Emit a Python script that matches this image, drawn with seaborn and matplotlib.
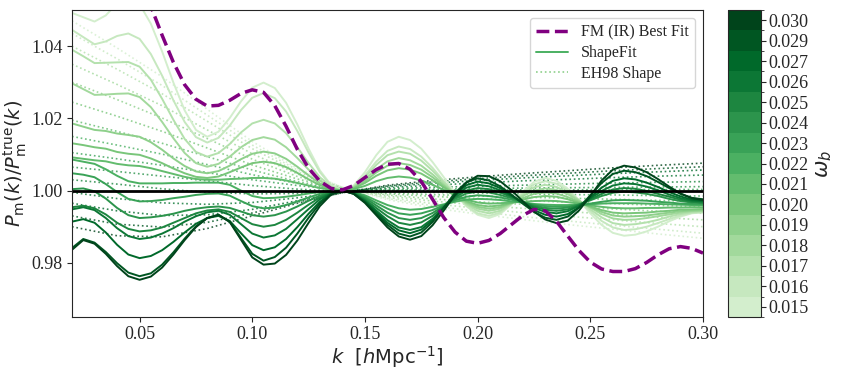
import numpy as np
import pandas as pd
import matplotlib
matplotlib.use("Agg")
import matplotlib.pyplot as plt
from matplotlib.colors import ListedColormap, BoundaryNorm
from matplotlib.cm import ScalarMappable
from matplotlib.lines import Line2D
import seaborn as sns

# omega_b of each curve / colour band
wb_labels = ['0.015', '0.016', '0.017', '0.018', '0.019', '0.020', '0.021', '0.022',
             '0.023', '0.024', '0.025', '0.026', '0.027', '0.029', '0.030']

# k grids the curves were read on [h/Mpc]
k_sf = np.linspace(0.02, 0.30, 57)
k_eh = np.linspace(0.02, 0.30, 15)
k_fm = np.linspace(0.05, 0.30, 51)

# ShapeFit curves, (P_m/P_m^true - 1) * 1000
sf_015 = [49.2, 48.0, 46.8, 48.5, 51.8, 53.5, 51.6, 46.2, 38.5, 29.9, 22.2, 16.8, 14.9, 16.3, 20.1, 24.7, 28.5, 29.9, 28.4, 24.3,
          18.3, 11.6, 5.6, 1.5, 0.0, 1.4, 5.1, 9.8, 13.5, 14.9, 14.0, 11.6, 7.9, 3.7, -0.7, -4.3, -6.7, -7.6, -6.5, -3.8,
          -0.3, 2.4, 3.5, 2.7, 0.5, -2.7, -6.3, -9.5, -11.7, -12.5, -12.2, -11.3, -10.0, -8.5, -7.2, -6.3, -6.0]
sf_016 = [44.5, 42.5, 40.5, 41.3, 42.8, 43.5, 42.0, 37.8, 31.8, 25.0, 19.0, 14.8, 13.3, 14.6, 18.0, 22.3, 25.7, 27.0, 25.6, 21.9,
          16.5, 10.5, 5.1, 1.4, 0.0, 1.2, 4.2, 8.0, 11.0, 12.2, 11.5, 9.4, 6.3, 2.6, -1.1, -4.2, -6.3, -7.0, -6.1, -3.7,
          -0.7, 1.7, 2.6, 1.9, 0.1, -2.7, -5.7, -8.4, -10.2, -10.9, -10.7, -10.0, -9.0, -7.9, -6.9, -6.2, -6.0]
sf_017 = [39.0, 37.2, 35.3, 35.4, 35.5, 35.6, 34.3, 30.7, 25.4, 19.6, 14.3, 10.7, 9.4, 10.4, 12.9, 16.1, 18.6, 19.6, 18.6, 15.9,
          12.0, 7.6, 3.7, 1.0, 0.0, 1.0, 3.7, 7.1, 9.8, 10.8, 10.2, 8.3, 5.5, 2.3, -1.0, -3.8, -5.6, -6.3, -5.6, -3.6,
          -1.1, 0.9, 1.6, 1.0, -0.5, -2.7, -5.2, -7.4, -9.0, -9.5, -9.3, -8.8, -8.1, -7.2, -6.5, -6.0, -5.8]
sf_018 = [29.7, 28.1, 26.5, 26.6, 26.8, 26.9, 25.9, 23.1, 19.0, 14.5, 10.4, 7.6, 6.6, 7.4, 9.4, 12.0, 14.0, 14.8, 14.1, 12.0,
          9.0, 5.8, 2.8, 0.7, 0.0, 0.9, 3.1, 5.9, 8.1, 9.0, 8.4, 6.9, 4.5, 1.7, -1.1, -3.5, -5.0, -5.6, -5.0, -3.5,
          -1.5, 0.0, 0.6, 0.2, -1.0, -2.8, -4.7, -6.5, -7.7, -8.1, -8.0, -7.6, -7.1, -6.6, -6.1, -5.7, -5.6]
sf_019 = [18.6, 17.7, 16.8, 16.5, 15.8, 15.4, 14.9, 13.4, 11.3, 8.9, 6.8, 5.3, 4.8, 5.4, 6.9, 8.7, 10.2, 10.8, 10.3, 8.8,
          6.6, 4.2, 2.0, 0.5, 0.0, 0.7, 2.6, 5.0, 6.9, 7.6, 7.1, 5.8, 3.7, 1.3, -1.1, -3.2, -4.5, -5.0, -4.6, -3.4,
          -2.1, -0.9, -0.5, -0.8, -1.8, -3.1, -4.6, -5.9, -6.9, -7.2, -7.1, -6.9, -6.5, -6.1, -5.7, -5.5, -5.4]
sf_020 = [13.1, 12.6, 12.0, 11.6, 10.7, 10.2, 9.9, 8.9, 7.6, 6.1, 4.8, 3.8, 3.5, 3.9, 5.1, 6.4, 7.6, 8.0, 7.6, 6.5,
          4.9, 3.1, 1.5, 0.4, 0.0, 0.6, 2.1, 4.1, 5.6, 6.2, 5.8, 4.7, 2.9, 0.9, -1.1, -2.9, -4.0, -4.4, -4.1, -3.4,
          -2.5, -1.8, -1.5, -1.7, -2.4, -3.4, -4.4, -5.4, -6.1, -6.3, -6.2, -6.1, -5.8, -5.6, -5.3, -5.2, -5.1]
sf_021 = [9.2, 8.8, 8.4, 8.1, 7.4, 7.0, 6.8, 6.2, 5.4, 4.6, 3.8, 3.2, 3.0, 3.0, 3.2, 3.3, 3.5, 3.5, 3.3, 2.8,
          2.1, 1.4, 0.7, 0.2, 0.0, 0.4, 1.3, 2.6, 3.5, 3.9, 3.6, 2.8, 1.6, 0.2, -1.3, -2.5, -3.3, -3.6, -3.5, -3.3,
          -3.1, -2.9, -2.8, -2.9, -3.2, -3.6, -4.1, -4.5, -4.8, -4.9, -4.9, -4.8, -4.8, -4.7, -4.7, -4.6, -4.6]
sf_022 = [8.6, 8.0, 7.4, 5.9, 4.1, 2.6, 2.0, 2.0, 2.0, 2.1, 2.1, 2.2, 2.2, 2.2, 1.6, 0.0, -1.5, -2.1, -2.0, -1.7,
          -1.3, -0.8, -0.4, -0.1, 0.0, -0.4, -1.3, -2.7, -4.0, -4.9, -5.3, -5.1, -4.5, -3.8, -3.1, -2.5, -2.3, -2.4, -2.6, -3.0,
          -3.3, -3.7, -3.9, -4.0, -4.0, -3.9, -3.8, -3.6, -3.5, -3.5, -3.5, -3.6, -3.7, -3.8, -3.9, -4.0, -4.0]
sf_023 = [4.8, 4.4, 3.7, 1.8, -0.4, -2.3, -3.0, -2.9, -2.6, -2.1, -1.7, -1.2, -0.9, -0.8, -1.4, -2.9, -4.3, -4.9, -4.7, -4.0,
          -3.0, -1.9, -0.9, -0.2, 0.0, -0.4, -1.7, -3.4, -5.0, -6.3, -6.7, -6.3, -5.4, -4.0, -2.7, -1.7, -1.3, -1.5, -1.9, -2.5,
          -3.3, -3.9, -4.3, -4.5, -4.4, -4.0, -3.6, -3.1, -2.7, -2.6, -2.7, -2.8, -3.1, -3.3, -3.6, -3.7, -3.8]
sf_024 = [0.4, 0.6, -0.2, -2.2, -4.8, -6.8, -7.6, -7.4, -7.0, -6.4, -5.6, -5.0, -4.6, -4.4, -4.8, -5.8, -6.8, -7.2, -6.8, -5.8,
          -4.4, -2.8, -1.4, -0.4, 0.0, -0.5, -2.0, -4.1, -6.1, -7.6, -8.1, -7.6, -6.2, -4.2, -2.3, -0.8, -0.3, -0.5, -1.2, -2.1,
          -3.2, -4.1, -4.8, -5.0, -4.7, -3.8, -2.7, -1.5, -0.6, -0.3, -0.5, -0.9, -1.5, -2.3, -2.9, -3.3, -3.5]
sf_025 = [-4.6, -4.2, -4.9, -6.6, -8.9, -10.6, -11.3, -11.0, -10.2, -8.9, -7.6, -6.3, -5.5, -5.2, -5.9, -7.6, -9.3, -10.0, -9.5, -8.1,
          -6.1, -3.9, -1.9, -0.5, 0.0, -0.6, -2.4, -4.8, -7.1, -8.9, -9.5, -8.8, -7.0, -4.4, -1.9, 0.0, 0.7, 0.4, -0.5, -1.8,
          -3.1, -4.4, -5.3, -5.6, -5.2, -4.0, -2.5, -0.9, 0.3, 0.7, 0.5, -0.1, -0.9, -1.7, -2.5, -3.1, -3.3]
sf_026 = [-5.2, -4.6, -5.4, -7.6, -10.4, -12.6, -13.4, -13.0, -11.9, -10.4, -8.6, -7.1, -6.0, -5.6, -6.7, -9.3, -11.9, -13.0, -12.4, -10.6,
          -7.9, -5.1, -2.4, -0.7, 0.0, -0.7, -2.7, -5.5, -8.2, -10.2, -10.9, -10.1, -7.8, -4.7, -1.5, 0.8, 1.6, 1.2, 0.1, -1.5,
          -3.2, -4.8, -5.9, -6.3, -5.7, -4.2, -2.2, -0.1, 1.4, 2.0, 1.8, 1.1, 0.1, -1.1, -2.1, -2.8, -3.0]
sf_027 = [-8.6, -7.9, -8.9, -11.6, -15.0, -17.7, -18.7, -18.1, -16.5, -14.2, -11.6, -9.2, -7.6, -7.0, -8.4, -11.8, -15.1, -16.5, -15.7, -13.4,
          -10.1, -6.4, -3.1, -0.8, 0.0, -0.8, -3.0, -5.9, -8.9, -11.0, -11.8, -10.8, -8.2, -4.7, -1.1, 1.5, 2.5, 2.0, 0.7, -1.3,
          -3.4, -5.4, -6.7, -7.2, -6.5, -4.6, -1.9, 0.8, 2.7, 3.4, 3.1, 2.2, 1.0, -0.4, -1.6, -2.5, -2.8]
sf_029 = [-15.9, -13.4, -14.4, -17.0, -20.1, -22.7, -23.7, -22.9, -20.5, -17.1, -13.3, -9.9, -7.6, -6.7, -8.6, -13.1, -17.5, -19.4, -18.4, -15.8,
          -11.9, -7.5, -3.6, -1.0, 0.0, -0.9, -3.2, -6.4, -9.5, -11.9, -12.7, -11.6, -8.7, -4.7, -0.6, 2.3, 3.4, 2.8, 1.2, -1.1,
          -3.6, -5.9, -7.5, -8.1, -7.2, -4.7, -1.3, 2.1, 4.6, 5.5, 5.1, 4.0, 2.4, 0.7, -0.9, -2.0, -2.4]
sf_030 = [-16.4, -13.7, -14.7, -17.5, -20.9, -23.7, -24.7, -23.8, -21.3, -17.7, -13.7, -10.1, -7.6, -6.7, -8.7, -13.6, -18.5, -20.5, -20.2, -17.8,
          -13.8, -8.9, -4.3, -1.1, 0.0, -0.9, -3.4, -6.8, -10.2, -12.7, -13.6, -12.6, -9.6, -5.5, -1.2, 2.2, 4.1, 4.0, 2.6, 0.1,
          -2.9, -5.8, -8.0, -9.0, -8.3, -5.5, -1.5, 2.8, 5.8, 6.9, 6.4, 5.1, 3.2, 1.1, -0.8, -2.1, -2.6]

# EH98 shape curves, same units, on the coarser k_eh grid
eh_015 = [47.0, 39.5, 31.5, 22.5, 13.6, 6.1, 0.9, -2.5, -4.8, -6.5, -8.0, -9.4, -10.7, -12.0, -13.2]
eh_016 = [43.5, 36.5, 29.1, 20.9, 12.6, 5.7, 0.9, -2.2, -4.2, -5.8, -7.2, -8.4, -9.6, -10.7, -11.8]
eh_017 = [40.0, 33.6, 26.8, 19.2, 11.6, 5.2, 0.8, -1.9, -3.6, -4.9, -6.1, -7.1, -8.1, -9.1, -10.0]
eh_018 = [35.0, 29.4, 23.5, 16.8, 10.2, 4.6, 0.7, -1.5, -2.9, -4.0, -4.9, -5.8, -6.6, -7.4, -8.1]
eh_019 = [30.0, 25.2, 20.1, 14.4, 8.7, 3.9, 0.6, -1.2, -2.3, -3.1, -3.8, -4.5, -5.1, -5.7, -6.3]
eh_020 = [24.5, 20.6, 16.4, 11.8, 7.1, 3.2, 0.5, -0.9, -1.6, -2.2, -2.7, -3.2, -3.6, -4.1, -4.5]
eh_021 = [19.5, 16.4, 13.1, 9.4, 5.7, 2.5, 0.4, -0.6, -1.1, -1.5, -1.8, -2.1, -2.4, -2.7, -3.0]
eh_022 = [15.0, 12.6, 10.1, 7.2, 4.4, 2.0, 0.3, -0.3, -0.5, -0.7, -0.9, -1.1, -1.2, -1.4, -1.5]
eh_023 = [10.5, 8.8, 7.0, 5.0, 3.0, 1.4, 0.2, 0.1, 0.1, 0.2, 0.2, 0.2, 0.3, 0.3, 0.3]
eh_024 = [6.5, 5.3, 4.0, 2.7, 1.4, 0.4, -0.2, 0.2, 0.4, 0.5, 0.7, 0.8, 0.9, 1.0, 1.1]
eh_025 = [3.0, 1.8, 0.5, -0.5, -0.9, -0.8, -0.3, 0.5, 0.9, 1.2, 1.5, 1.8, 2.1, 2.3, 2.5]
eh_026 = [-0.5, -2.2, -3.4, -3.8, -3.3, -2.0, -0.4, 0.8, 1.5, 2.1, 2.7, 3.1, 3.6, 4.0, 4.3]
eh_027 = [-3.5, -5.6, -6.9, -6.7, -5.2, -2.8, -0.5, 1.1, 2.0, 2.8, 3.5, 4.1, 4.7, 5.2, 5.7]
eh_029 = [-7.0, -9.3, -10.1, -8.8, -6.2, -3.2, -0.6, 1.3, 2.4, 3.3, 4.1, 4.8, 5.5, 6.1, 6.6]
eh_030 = [-10.0, -12.5, -12.8, -10.5, -7.0, -3.5, -0.6, 1.5, 2.8, 3.8, 4.7, 5.5, 6.3, 7.0, 7.6]

# FM (IR) best fit, same units, on k_fm
fm_dev = [62.0, 51.0, 43.0, 35.5, 29.3, 25.3, 23.4, 23.6, 25.0, 26.9,
          27.9, 27.2, 23.5, 17.8, 11.4, 6.2, 2.6, 0.6, 0.2, 1.4,
          3.6, 5.8, 7.3, 7.5, 5.9, 2.5, -2.4, -7.5, -11.5, -14.0,
          -14.6, -13.8, -11.9, -9.4, -6.9, -5.2, -5.6, -8.5, -12.6, -16.6,
          -19.8, -21.7, -22.4, -22.4, -21.6, -19.9, -17.8, -16.1, -15.5, -16.0,
          -17.3]

shapefit = [sf_015, sf_016, sf_017, sf_018, sf_019, sf_020, sf_021, sf_022,
            sf_023, sf_024, sf_025, sf_026, sf_027, sf_029, sf_030]
eh98 = [eh_015, eh_016, eh_017, eh_018, eh_019, eh_020, eh_021, eh_022,
        eh_023, eh_024, eh_025, eh_026, eh_027, eh_029, eh_030]

# long-form tables for seaborn
df_sf = pd.concat([pd.DataFrame({'k': k_sf, 'ratio': 1 + np.array(v) / 1000, 'wb': lab})
                   for v, lab in zip(shapefit, wb_labels)], ignore_index=True)
df_eh = pd.concat([pd.DataFrame({'k': k_eh, 'ratio': 1 + np.array(v) / 1000, 'wb': lab})
                   for v, lab in zip(eh98, wb_labels)], ignore_index=True)
fm_ratio = 1 + np.array(fm_dev) / 1000

sns.set_style("ticks")
plt.rcParams['font.family'] = ['Liberation Serif', 'DejaVu Serif']
plt.rcParams['mathtext.fontset'] = 'dejavusans'

greens = plt.get_cmap('Greens')(np.linspace(0.2, 1.0, len(wb_labels)))
pal = {lab: greens[i] for i, lab in enumerate(wb_labels)}

fig = plt.figure(figsize=(8.43, 3.73), dpi=100)
ax = fig.add_axes([0.0854, 0.1501, 0.7485, 0.8231])
cax = fig.add_axes([0.8636, 0.1501, 0.0391, 0.8231])

sns.lineplot(data=df_eh, x='k', y='ratio', hue='wb', hue_order=wb_labels, palette=pal,
             estimator=None, legend=False, linestyle=':', lw=1.2, alpha=0.8, ax=ax)
sns.lineplot(data=df_sf, x='k', y='ratio', hue='wb', hue_order=wb_labels, palette=pal,
             estimator=None, legend=False, lw=1.4, ax=ax)
ax.axhline(1.0, color='black', lw=2)
sns.lineplot(x=k_fm, y=fm_ratio, color='purple', lw=2.5, linestyle='--', ax=ax)

ax.set_xlim(0.02, 0.30)
ax.set_ylim(0.965, 1.05)
ax.set_xticks([0.05, 0.10, 0.15, 0.20, 0.25, 0.30])
ax.set_xticklabels(['0.05', '0.10', '0.15', '0.20', '0.25', '0.30'])
ax.set_yticks([0.98, 1.00, 1.02, 1.04])
ax.set_yticklabels(['0.98', '1.00', '1.02', '1.04'])
ax.tick_params(labelsize=13, length=3.5, pad=3)
ax.set_xlabel(r'$k\ \ [h{\rm Mpc}^{-1}]$', fontsize=14, labelpad=1)
ax.set_ylabel(r'$P_{\rm m}(k)/P_{\rm m}^{\rm true}(k)$', fontsize=14, labelpad=2)

handles = [Line2D([], [], color='purple', lw=2.5, linestyle='--'),
           Line2D([], [], color=greens[7], lw=1.4),
           Line2D([], [], color=greens[4], lw=1.2, linestyle=':')]
ax.legend(handles, ['FM (IR) Best Fit', 'ShapeFit', 'EH98 Shape'], loc='upper right',
          fontsize=11.5, labelspacing=0.3)

n = len(wb_labels)
sm = ScalarMappable(norm=BoundaryNorm(np.arange(n + 1), n), cmap=ListedColormap(greens))
cbar = fig.colorbar(sm, cax=cax, ticks=np.arange(n) + 0.5)
cbar.set_ticklabels(wb_labels)
cbar.ax.tick_params(labelsize=13, length=3.5, pad=2)
cbar.set_label(r'$\omega_b$', fontsize=15)

fig.savefig('out.png', dpi=100)
